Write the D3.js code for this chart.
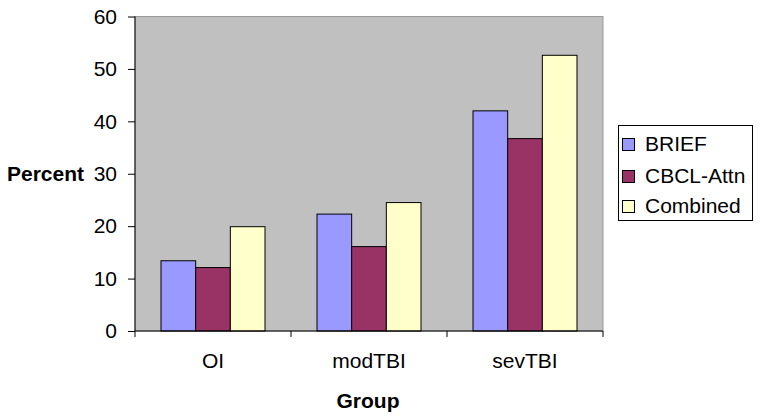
<!DOCTYPE html>
<html><head><meta charset="utf-8">
<script src="https://cdn.jsdelivr.net/npm/d3@7"></script>
<style>body{margin:0;background:#fff}svg{display:block;font-family:Arial,"Liberation Sans",sans-serif}</style>
</head><body>
<svg id="c" width="762" height="419"></svg>
<script>
const categories = ["OI", "modTBI", "sevTBI"];
const seriesNames = ["BRIEF", "CBCL-Attn", "Combined"];
const brief = [13.4, 22.3, 42.0];
const cbclAttn = [12.1, 16.1, 36.7];
const combined = [19.9, 24.5, 52.6];
const yTicks = [0, 10, 20, 30, 40, 50, 60];
const colors = ["#9999FF", "#993366", "#FFFFCC"];
const seriesValues = [brief, cbclAttn, combined];

const FS = 21;
const FONT = "Arial, 'Liberation Sans', sans-serif";
const svg = d3.select("#c");
const L = 135, R = 603, T = 16.5, B = 331;

const x = d3.scaleBand().domain(categories).range([L, R]).paddingInner(0).paddingOuter(0);
const y = d3.scaleLinear().domain([0, 60]).range([B, T]);
const bw = x.bandwidth() / 4.5;
const xs = d3.scaleBand().domain(seriesNames).range([0.75 * bw, 3.75 * bw]).padding(0);

svg.append("rect").attr("x", L).attr("y", T).attr("width", R - L).attr("height", B - T)
  .attr("fill", "#C0C0C0").attr("stroke", "#9a9a9a").attr("stroke-width", 1);

seriesNames.forEach((s, i) => {
  svg.append("g").selectAll("rect").data(categories).join("rect")
    .attr("x", d => x(d) + xs(s))
    .attr("y", (d, j) => y(seriesValues[i][j]))
    .attr("width", xs.bandwidth())
    .attr("height", (d, j) => B - y(seriesValues[i][j]))
    .attr("fill", colors[i]).attr("stroke", "#000").attr("stroke-width", 1);
});

// Y axis
const ya = svg.append("g").attr("transform", `translate(${L},0)`)
  .call(d3.axisLeft(y).tickValues(yTicks).tickSize(7).tickPadding(11).tickFormat(d3.format("d")));
ya.selectAll("text").attr("font-size", FS).attr("fill", "#000").attr("font-family", FONT);
ya.selectAll("line,path").attr("stroke", "#000");
ya.select("path").attr("d", `M0,${T}V${B}`);

// X axis
const xa = svg.append("g").attr("transform", `translate(0,${B})`)
  .call(d3.axisBottom(x).tickSize(0).tickPadding(22));
xa.select("path").attr("d", `M${L},0H${R}`).attr("stroke", "#000");
xa.selectAll("text").attr("font-size", FS).attr("fill", "#000").attr("font-family", FONT);
const bounds = categories.map(c => x(c)).concat([R]);
svg.append("g").selectAll("line").data(bounds).join("line")
  .attr("x1", d => d).attr("x2", d => d).attr("y1", B).attr("y2", B + 6).attr("stroke", "#000");

svg.append("text").attr("x", 45.5).attr("y", 181).attr("text-anchor", "middle")
  .attr("font-weight", "bold").attr("font-size", FS).text("Percent");
svg.append("text").attr("x", 368).attr("y", 408).attr("text-anchor", "middle")
  .attr("font-weight", "bold").attr("font-size", FS).text("Group");

// Legend
const lg = svg.append("g");
lg.append("rect").attr("x", 618.5).attr("y", 125.5).attr("width", 134).attr("height", 95)
  .attr("fill", "#fff").attr("stroke", "#000");
const rowBase = [150.5, 182.5, 212.5];
seriesNames.forEach((s, i) => {
  lg.append("rect").attr("x", 622.5).attr("y", rowBase[i] - 12).attr("width", 12).attr("height", 12)
    .attr("fill", colors[i]).attr("stroke", "#000");
  lg.append("text").attr("x", 645).attr("y", rowBase[i]).attr("font-size", FS).text(s);
});
</script>
</body></html>
